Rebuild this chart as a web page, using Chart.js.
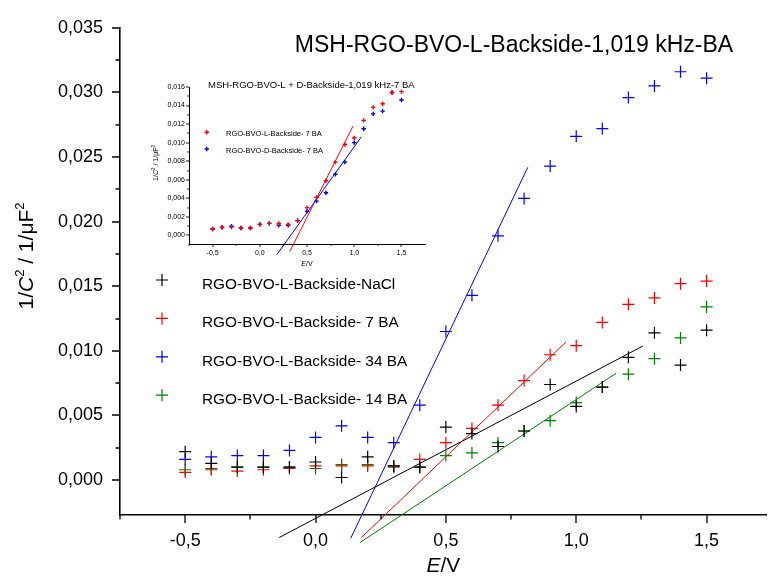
<!DOCTYPE html>
<html><head><meta charset="utf-8">
<script src="https://cdn.jsdelivr.net/npm/chart.js@4.4.1/dist/chart.umd.min.js"></script>
<style>
html,body{margin:0;padding:0;background:#fff;}
#wrap{position:relative;width:774px;height:583px;overflow:hidden;background:#fff;}
#main{position:absolute;left:0;top:0;}
#inset{position:absolute;left:140px;top:70px;}
</style></head><body>
<div id="wrap">
<canvas id="main" width="774" height="583"></canvas>
<canvas id="inset" width="300" height="200"></canvas>
</div>
<script>
// ---------- data ----------
const potentials = [-0.5,-0.4,-0.3,-0.2,-0.1,0.0,0.1,0.2,0.3,0.4,0.5,0.6,0.7,0.8,0.9,1.0,1.1,1.2,1.3,1.4,1.5];
const seriesNames = ['RGO-BVO-L-Backside-NaCl','RGO-BVO-L-Backside- 7 BA','RGO-BVO-L-Backside- 34 BA','RGO-BVO-L-Backside- 14 BA'];
const naclValues = [0.0022,0.0013,0.0010,0.0010,0.0010,0.0014,0.0002,0.0018,0.0011,0.0010,0.0041,0.0036,0.0026,0.0038,0.0074,0.0057,0.0072,0.0095,0.0114,0.0089,0.0116];
const ba7Values  = [0.0006,0.0008,0.0007,0.0008,0.0009,0.0011,0.0011,0.0011,0.0011,0.0016,0.0029,0.0040,0.0058,0.0077,0.0097,0.0104,0.0122,0.0136,0.0141,0.0152,0.0154];
const ba34Values = [0.0016,0.0018,0.0019,0.0019,0.0023,0.0033,0.0042,0.0033,0.0029,0.0058,0.0115,0.0143,0.0189,0.0218,0.0243,0.0266,0.0272,0.0296,0.0305,0.0316,0.0311];
const ba14Values = [0.0008,0.0009,0.0010,0.0010,0.0010,0.0009,0.0012,0.0012,0.0010,0.0010,0.0019,0.0021,0.0029,0.0038,0.0046,0.0060,0.0072,0.0082,0.0094,0.0110,0.0134];
// linear fits (end points)
const fitNaclE = [-0.139, 1.255], fitNaclV = [-0.00444, 0.01037];
const fit7E    = [0.176, 0.961],  fit7V    = [-0.00444, 0.0107];
const fit34E   = [0.135, 0.814],  fit34V   = [-0.0045, 0.0242];
const fit14E   = [0.170, 1.153],  fit14V   = [-0.00484, 0.00827];
const mainTitle = 'MSH-RGO-BVO-L-Backside-1,019 kHz-BA';
const mainXMinor = [-0.75,-0.25,0.25,0.75,1.25];
const mainYMinor = [0.0025,0.0075,0.0125,0.0175,0.0225,0.0275,0.0325];

// inset
const insetTitle = 'MSH-RGO-BVO-L + D-Backside-1,019 kHz-7 BA';
const insetNames = ['RGO-BVO-L-Backside- 7 BA','RGO-BVO-D-Backside- 7 BA'];
const insetLValues = [0.0007,0.00086,0.0009,0.0008,0.0008,0.0012,0.0013,0.0013,0.0012,0.0016,0.0030,0.0041,0.0059,0.0079,0.0098,0.0105,0.0124,0.0138,0.0142,0.0154,0.0155];
const insetDValues = [0.0007,0.0009,0.0010,0.0008,0.0008,0.0012,0.0013,0.0011,0.0011,0.0016,0.0026,0.0037,0.0046,0.0066,0.0079,0.0100,0.0115,0.0131,0.0134,0.0154,0.0146];
const insetFitLE = [0.317, 0.986], insetFitLV = [-0.00172, 0.01178];
const insetFitDE = [0.180, 1.075], insetFitDV = [-0.00207, 0.01063];
const insetXMinor = [-0.75,-0.25,0.25,0.75,1.25];
const insetYMinor = [0.001,0.003,0.005,0.007,0.009,0.011,0.013,0.015];

// ---------- helpers ----------
const FONT = '"Liberation Sans", Arial, sans-serif';
const pts = (xs, ys) => xs.map((x, i) => ({x, y: ys[i]}));
const comma = (v, d) => v.toFixed(d).replace('.', ',');

function drawRich(ctx, parts, x, y) {
  let w = 0;
  parts.forEach(p => { ctx.font = p.font; w += ctx.measureText(p.t).width; });
  let cx = x - w / 2;
  parts.forEach(p => { ctx.font = p.font; ctx.fillText(p.t, cx, y + (p.dy || 0)); cx += ctx.measureText(p.t).width; });
}
function cross(ctx, x, y, r, color, lw) {
  ctx.save(); ctx.strokeStyle = color; ctx.lineWidth = lw; ctx.beginPath();
  ctx.moveTo(x - r, y); ctx.lineTo(x + r, y); ctx.moveTo(x, y - r); ctx.lineTo(x, y + r);
  ctx.stroke(); ctx.restore();
}

const axisTicks = {
  id: 'axisTicks',
  afterDraw(chart, args, o) {
    const ctx = chart.ctx, xs = chart.scales.x, ys = chart.scales.y;
    ctx.save(); ctx.strokeStyle = '#000'; ctx.lineWidth = o.width; ctx.beginPath();
    const base = xs.top, left = ys.right;
    const vx = (v, len) => { if (v < xs.min - 1e-9 || v > xs.max + 1e-9) return; const p = Math.round(xs.getPixelForValue(v)); ctx.moveTo(p, base); ctx.lineTo(p, base + len); };
    const vy = (v, len) => { if (v < ys.min - 1e-9 || v > ys.max + 1e-9) return; const p = Math.round(ys.getPixelForValue(v)); ctx.moveTo(left, p); ctx.lineTo(left - len, p); };
    xs.ticks.forEach(t => vx(t.value, o.major));
    o.xMinor.forEach(v => vx(v, o.minor));
    ys.ticks.forEach(t => vy(t.value, o.major));
    o.yMinor.forEach(v => vy(v, o.minor));
    ctx.stroke(); ctx.restore();
  }
};

const colors = ['#000000', '#ff0000', '#0000ff', '#008000'];

// ---------- main chart ----------
const mainText = {
  id: 'mainText',
  afterDraw(chart) {
    const ctx = chart.ctx; const ca = chart.chartArea;
    ctx.save(); ctx.fillStyle = '#000'; ctx.textBaseline = 'middle';
    ctx.textAlign = 'center'; ctx.font = '23px ' + FONT;
    ctx.fillText(mainTitle, 514, 46);
    // legend
    ctx.textAlign = 'left'; ctx.font = '15.4px ' + FONT;
    seriesNames.forEach((n, i) => {
      const y = 280 + i * 38.4;
      cross(ctx, 162, y, 6, colors[i], 1.2);
      ctx.fillStyle = '#000'; ctx.fillText(n, 202, y + 4.5);
    });
    // x title
    ctx.textAlign = 'left'; ctx.textBaseline = 'alphabetic';
    drawRich(ctx, [{t: 'E', font: 'italic 21px ' + FONT}, {t: '/V', font: '21px ' + FONT}], (ca.left + ca.right) / 2, 572);
    // y title
    ctx.translate(33, 256); ctx.rotate(-Math.PI / 2);
    drawRich(ctx, [
      {t: '1/', font: '21px ' + FONT},
      {t: 'C', font: 'italic 21px ' + FONT},
      {t: '2', font: '13px ' + FONT, dy: -9},
      {t: ' / 1/\u03bcF', font: '21px ' + FONT},
      {t: '2', font: '13px ' + FONT, dy: -9}
    ], 0, 0);
    ctx.restore();
  }
};

const pointDs = (label, vals, c) => ({
  label, data: pts(potentials, vals), pointStyle: 'cross', pointRadius: 6, pointHoverRadius: 6,
  borderColor: c, backgroundColor: c, pointBorderWidth: 1.2, showLine: false
});
const lineDs = (xs, ys, c) => ({
  data: pts(xs, ys), showLine: true, pointRadius: 0, borderColor: c, borderWidth: 1, clip: false, fill: false
});

new Chart(document.getElementById('main'), {
  type: 'scatter',
  data: {
    datasets: [
      pointDs(seriesNames[0], naclValues, colors[0]),
      pointDs(seriesNames[1], ba7Values, colors[1]),
      pointDs(seriesNames[2], ba34Values, colors[2]),
      pointDs(seriesNames[3], ba14Values, colors[3]),
      lineDs(fitNaclE, fitNaclV, colors[0]),
      lineDs(fit7E, fit7V, colors[1]),
      lineDs(fit34E, fit34V, colors[2]),
      lineDs(fit14E, fit14V, colors[3])
    ]
  },
  options: {
    responsive: false, animation: false,
    layout: {padding: {top: 24, left: 0, right: 0, bottom: 0}},
    plugins: {
      legend: {display: false}, tooltip: {enabled: false}, title: {display: false},
      axisTicks: {width: 1.3, major: 8, minor: 4.5, xMinor: mainXMinor, yMinor: mainYMinor}
    },
    scales: {
      x: {
        type: 'linear', position: 'bottom', min: -0.75, max: 1.731,
        afterFit: s => { s.height = 68; },
        grid: {drawOnChartArea: false, drawTicks: false},
        border: {display: true, color: '#000', width: 1.6},
        ticks: {stepSize: 0.5, includeBounds: false, autoSkip: false, maxRotation: 0, padding: 15,
          color: '#000', font: {family: FONT, size: 18}, callback: v => comma(v, 1)}
      },
      y: {
        type: 'linear', min: -0.0027, max: 0.035,
        afterFit: s => { s.width = 120; },
        grid: {drawOnChartArea: false, drawTicks: false},
        border: {display: true, color: '#000', width: 1.6},
        ticks: {stepSize: 0.005, includeBounds: false, autoSkip: false, padding: 17,
          color: '#000', font: {family: FONT, size: 18}, callback: v => comma(v, 3)}
      }
    }
  },
  plugins: [axisTicks, mainText]
});

// ---------- inset chart ----------
const insetColors = ['#ff0000', '#0000ff'];
const insetText = {
  id: 'insetText',
  afterDraw(chart) {
    const ctx = chart.ctx; const ca = chart.chartArea;
    ctx.save(); ctx.fillStyle = '#000'; ctx.textBaseline = 'middle'; ctx.textAlign = 'left';
    ctx.font = '9.5px ' + FONT;
    ctx.fillText(insetTitle, 68, 15);
    ctx.font = '7.5px ' + FONT;
    insetNames.forEach((n, i) => {
      const y = 62.3 + i * 16.7;
      cross(ctx, 66.7, y, 2.2, insetColors[i], 1.4);
      ctx.fillStyle = '#000'; ctx.fillText(n, 86, y + 2);
    });
    ctx.textBaseline = 'alphabetic';
    drawRich(ctx, [{t: 'E', font: 'italic 7px ' + FONT}, {t: '/V', font: '7px ' + FONT}], (ca.left + ca.right) / 2, 196);
    ctx.translate(17.5, 93); ctx.rotate(-Math.PI / 2);
    drawRich(ctx, [
      {t: '1/', font: '7px ' + FONT},
      {t: 'C', font: 'italic 7px ' + FONT},
      {t: '2', font: '4.5px ' + FONT, dy: -3},
      {t: ' / 1/\u03bcF', font: '7px ' + FONT},
      {t: '2', font: '4.5px ' + FONT, dy: -3}
    ], 0, 0);
    ctx.restore();
  }
};
const insetPointDs = (label, vals, c) => ({
  label, data: pts(potentials, vals), pointStyle: 'cross', pointRadius: 2.2, pointHoverRadius: 2.2,
  borderColor: c, backgroundColor: c, pointBorderWidth: 1.4, showLine: false
});

new Chart(document.getElementById('inset'), {
  type: 'scatter',
  data: {
    datasets: [
      insetPointDs(insetNames[0], insetLValues, insetColors[0]),
      insetPointDs(insetNames[1], insetDValues, insetColors[1]),
      lineDs(insetFitLE, insetFitLV, insetColors[0]),
      lineDs(insetFitDE, insetFitDV, insetColors[1])
    ]
  },
  options: {
    responsive: false, animation: false,
    layout: {padding: {top: 17, left: 0, right: 15, bottom: 0}},
    plugins: {
      legend: {display: false}, tooltip: {enabled: false}, title: {display: false},
      axisTicks: {width: 0.9, major: 3, minor: 1.8, xMinor: insetXMinor, yMinor: insetYMinor}
    },
    scales: {
      x: {
        type: 'linear', position: 'bottom', min: -0.75, max: 1.749,
        afterFit: s => { s.height = 26; },
        grid: {drawOnChartArea: false, drawTicks: false},
        border: {display: true, color: '#000', width: 1},
        ticks: {stepSize: 0.5, includeBounds: false, autoSkip: false, maxRotation: 0, padding: 5,
          color: '#000', font: {family: FONT, size: 7}, callback: v => comma(v, 1)}
      },
      y: {
        type: 'linear', min: -0.00092, max: 0.016,
        afterFit: s => { s.width = 49; },
        grid: {drawOnChartArea: false, drawTicks: false},
        border: {display: true, color: '#000', width: 1},
        ticks: {stepSize: 0.002, includeBounds: false, autoSkip: false, padding: 4,
          color: '#000', font: {family: FONT, size: 7}, callback: v => comma(v, 3)}
      }
    }
  },
  plugins: [axisTicks, insetText]
});
</script>
</body></html>
